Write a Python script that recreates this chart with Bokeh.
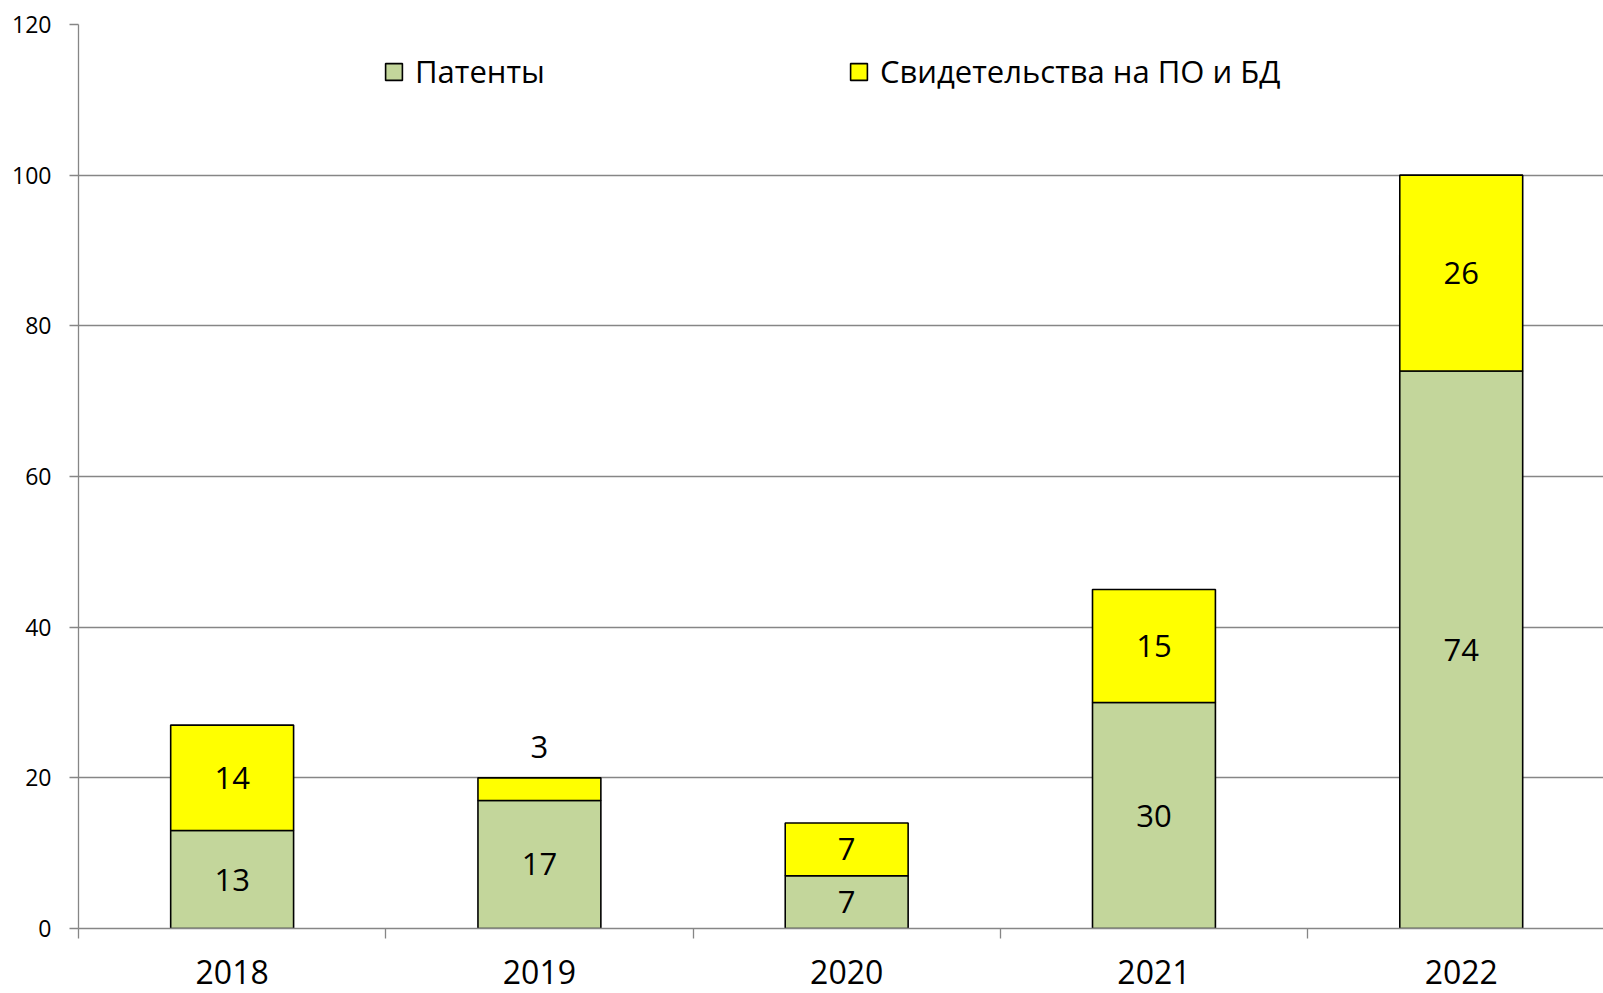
from bokeh.plotting import figure
from bokeh.models import Range1d, FixedTicker, Legend, LegendItem
from bokeh.embed import file_html
from bokeh.resources import INLINE
from bokeh.core.properties import value

years = ["2018", "2019", "2020", "2021", "2022"]
patents = [13, 17, 7, 30, 74]
certificates = [14, 3, 7, 15, 26]
y_ticks = [0, 20, 40, 60, 80, 100, 120]
legend_labels = ["Патенты", "Свидетельства на ПО и БД"]

FONT = "Open Sans"
GREEN = "#C3D69B"
YELLOW = "#FFFF00"
GRAY = "#868686"

xs = [i + 0.5 for i in range(len(years))]
boundaries = list(range(len(years) + 1))
totals = [a + b for a, b in zip(patents, certificates)]

p = figure(width=1603, height=993, output_backend="svg", toolbar_location=None,
           x_range=Range1d(0, 4.963), y_range=Range1d(0, 120),
           min_border_left=78, min_border_right=0, min_border_top=24,
           min_border_bottom=65)
p.outline_line_color = None
p.background_fill_color = "white"

r1 = p.vbar(x=xs, width=0.4, bottom=0, top=patents, fill_color=GREEN,
            line_color="black", line_width=1.6)
r2 = p.vbar(x=xs, width=0.4, bottom=patents, top=totals, fill_color=YELLOW,
            line_color="black", line_width=1.6)

# data labels
lx, ly, lt, lo = [], [], [], []
for i in range(len(years)):
    lx.append(xs[i]); ly.append(patents[i] / 2); lt.append(str(patents[i])); lo.append(0)
    if certificates[i] < 5:
        lx.append(xs[i]); ly.append(totals[i]); lt.append(str(certificates[i])); lo.append(-31)
    else:
        lx.append(xs[i]); ly.append(patents[i] + certificates[i] / 2); lt.append(str(certificates[i])); lo.append(0)
p.text(x=lx, y=ly, text=lt, y_offset=lo, text_align="center", text_baseline="middle",
       text_font=value(FONT), text_font_size="31px", text_color="black")

# grid
p.xgrid.visible = False
p.ygrid.ticker = FixedTicker(ticks=y_ticks)
p.ygrid.grid_line_color = GRAY
p.ygrid.grid_line_width = 1.3

# y axis
ya = p.yaxis[0]
ya.ticker = FixedTicker(ticks=y_ticks)
ya.axis_line_color = GRAY
ya.axis_line_width = 1.3
ya.major_tick_line_color = GRAY
ya.major_tick_line_width = 1.3
ya.major_tick_out = 9
ya.major_tick_in = 0
ya.minor_tick_line_color = None
ya.major_label_text_font = FONT
ya.major_label_text_font_size = "23px"
ya.major_label_text_color = "black"
ya.major_label_standoff = 18

# x axis
xa = p.xaxis[0]
xa.ticker = FixedTicker(ticks=xs, minor_ticks=boundaries)
xa.major_label_overrides = {xs[i]: years[i] for i in range(len(years))}
xa.axis_line_color = GRAY
xa.axis_line_width = 1.3
xa.major_tick_out = 0
xa.major_tick_in = 0
xa.major_tick_line_color = None
xa.minor_tick_out = 10
xa.minor_tick_in = 0
xa.minor_tick_line_color = GRAY
xa.minor_tick_line_width = 1.3
xa.major_label_text_font = FONT
xa.major_label_text_font_size = "32px"
xa.major_label_text_color = "black"
xa.major_label_standoff = 21

def make_legend(label, rend, loc):
    lg = Legend(items=[LegendItem(label=label, renderers=[rend])], location=loc,
                orientation="horizontal", border_line_color=None,
                background_fill_alpha=0, padding=0, margin=0, spacing=0,
                glyph_width=21, glyph_height=21, label_standoff=11,
                label_text_font=FONT, label_text_font_size="31px",
                label_text_color="black")
    return lg

p.add_layout(make_legend(legend_labels[0], r1, (305, 836)))
p.add_layout(make_legend(legend_labels[1], r2, (770, 836)))

open("out.html", "w").write(file_html(p, INLINE))
